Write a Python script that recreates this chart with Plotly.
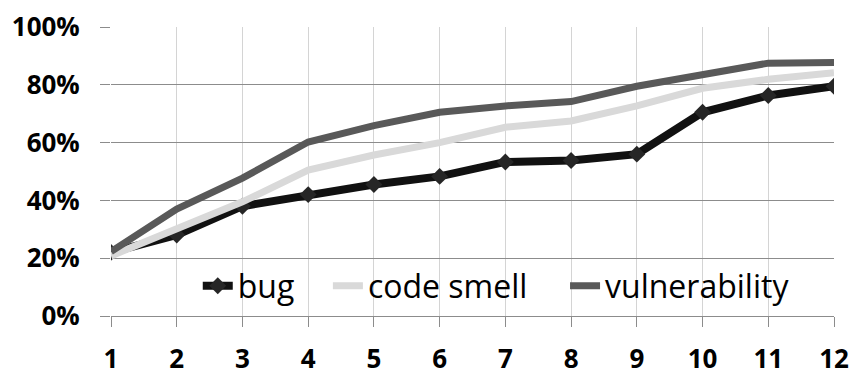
import plotly.graph_objs as go

# data
steps = list(range(1, 13))
bug = [22, 28, 38, 42, 45.5, 48.3, 53.3, 53.8, 56, 70.5, 76.3, 79.5]
code_smell = [20.8, 30, 39.5, 50.5, 55.7, 60, 65.3, 67.5, 72.7, 78.8, 81.9, 84.2]
vulnerability = [22.3, 37, 47.7, 60.2, 65.9, 70.5, 72.7, 74.2, 79.5, 83.6, 87.5, 87.7]
y_ticks = [0, 20, 40, 60, 80, 100]

colors = {"bug": "#111111", "marker": "#262626", "smell": "#d9d9d9", "vuln": "#595959",
          "grid_h": "#8c8c8c", "grid_v": "#d4d4d4"}

fig = go.Figure()
fig.add_trace(go.Scatter(
    x=steps, y=bug, name="bug", mode="lines+markers", legend="legend", showlegend=True,
    line=dict(color=colors["bug"], width=8),
    marker=dict(symbol="diamond", size=13, color=colors["marker"])
))
fig.add_trace(go.Scatter(
    x=steps, y=code_smell, name="code smell", mode="lines", legend="legend2", showlegend=True,
    line=dict(color=colors["smell"], width=7)
))
fig.add_trace(go.Scatter(
    x=steps, y=vulnerability, name="vulnerability", mode="lines", legend="legend3", showlegend=True,
    line=dict(color=colors["vuln"], width=7)
))

# one legend box per entry so the spacing follows the original
leg = dict(orientation="h", y=0.104, xanchor="left", yanchor="middle",
           font=dict(size=32), bgcolor="rgba(0,0,0,0)")
# page body has an 8px margin, so the figure is a bit smaller than the window
fig.update_layout(
    width=849, height=369, showlegend=True,
    paper_bgcolor="white", plot_bgcolor="white",
    margin=dict(l=103, r=23, t=19, b=61, autoexpand=False),
    font=dict(family="Open Sans", color="black"),
    legend=dict(leg, x=0.120),
    legend2=dict(leg, x=0.300),
    legend3=dict(leg, x=0.628),
)
fig.update_xaxes(
    range=[1, 12], tickvals=steps, ticktext=[str(s) for s in steps],
    showgrid=True, gridcolor=colors["grid_v"], gridwidth=1,
    ticks="outside", ticklen=10, tickcolor=colors["grid_h"],
    showline=True, linecolor=colors["grid_h"], linewidth=1,
    tickfont=dict(size=26, weight="bold"), zeroline=False,
    automargin=False, ticklabelstandoff=10,
)
fig.update_yaxes(
    range=[0, 100], tickvals=y_ticks, ticktext=[f"{v}%" for v in y_ticks],
    showgrid=True, gridcolor=colors["grid_h"], gridwidth=1,
    ticks="outside", ticklen=10, tickcolor=colors["grid_h"],
    showline=False, zeroline=False,
    tickfont=dict(size=26, weight="bold"),
    automargin=False, ticklabelstandoff=15,
)

fig.write_html("out.html")
